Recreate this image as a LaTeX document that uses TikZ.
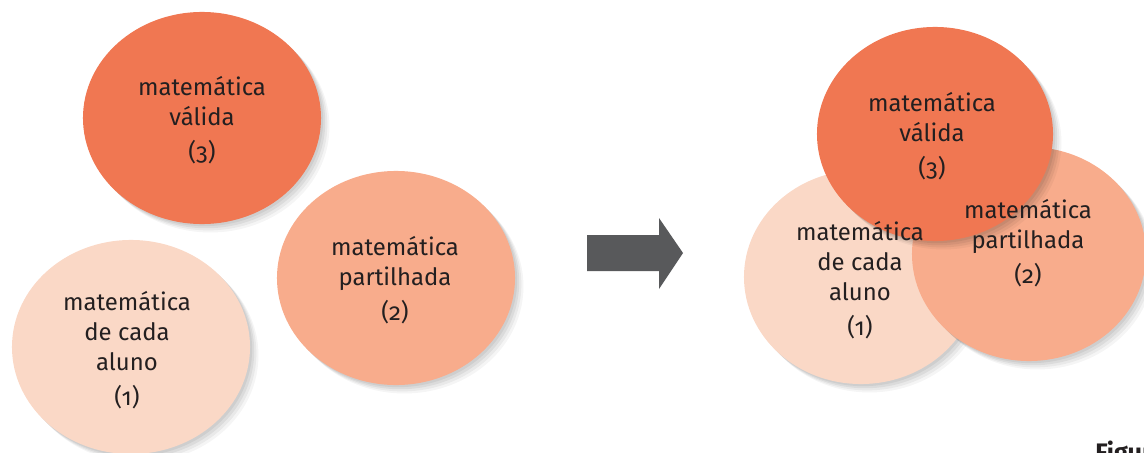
\documentclass[tikz,border=0pt]{standalone}
\usepackage{fontspec}
\setmainfont{Fira Sans}[Numbers=OldStyle]
\definecolor{validred}{RGB}{240,119,82}
\definecolor{sharedsalmon}{RGB}{248,172,140}
\definecolor{pupilpeach}{RGB}{250,216,198}
\definecolor{arrowgrey}{RGB}{88,89,91}
\definecolor{labelink}{RGB}{35,31,32}
\usetikzlibrary{shapes.geometric, shadows}

\begin{document}
\begin{tikzpicture}[x=0.025cm, y=-0.025cm,
  softshadow/.style={
    drop shadow={shadow xshift=1.5pt, shadow yshift=-1.5pt, opacity=0.06, fill=black},
    drop shadow={shadow xshift=3pt, shadow yshift=-3pt, opacity=0.06, fill=black},
    drop shadow={shadow xshift=4.5pt, shadow yshift=-4.5pt, opacity=0.05, fill=black},
    drop shadow={shadow xshift=6pt, shadow yshift=-6pt, opacity=0.04, fill=black}},
  blob/.style={ellipse, inner sep=0pt, minimum width=5.95cm, minimum height=5.35cm, softshadow},
  blobtext/.style={align=center, inner sep=0pt, text=labelink, font=\fontsize{17}{21.5}\selectfont}]
  \useasboundingbox (0,0) rectangle (1144,453);
  \clip (0,0) rectangle (1144,453);

  % Before: three separate blobs
  \node[blob, fill=pupilpeach] (l1) at (131,347) {};
  \node[blob, fill=sharedsalmon] (l2) at (396,278) {};
  \node[blob, fill=validred, minimum height=5.3cm] (l3) at (202,118) {};
  \node[blobtext] (t-l3) at (202,120) {matemática\\válida\\[0.1cm](3)};
  \node[blobtext] (t-l2) at (395,280) {matemática\\partilhada\\[0.1cm](2)};
  \node[blobtext] (t-l1) at (127,350) {matemática\\de cada\\aluno\\[0.1cm](1)};

  % Arrow
  \fill[arrowgrey] (587,235) -- (659,235) -- (659,218) -- (683,253) -- (659,289) -- (659,271) -- (587,271) -- cycle;

  % After: overlapping blobs
  \node[blob, fill=pupilpeach, minimum width=5.85cm] (r1) at (861,277) {};
  \node[blob, fill=sharedsalmon, minimum width=5.85cm] (r2) at (1029,254) {};
  \node[blob, fill=validred, minimum width=5.9cm] (r3) at (935,134) {};
  \node[blobtext] (t-r3) at (932,136) {matemática\\válida\\[0.1cm](3)};
  \node[blobtext] (t-r1) at (860,280) {matemática\\de cada\\aluno\\[0.1cm](1)};
  \node[blobtext] (t-r2) at (1028,243) {matemática\\partilhada\\[0.1cm](2)};

  \node[anchor=north west, inner sep=0pt, text=labelink, font=\fontsize{18}{20}\selectfont\bfseries] (caption) at (1095,441) {Figura};
\end{tikzpicture}
\end{document}
